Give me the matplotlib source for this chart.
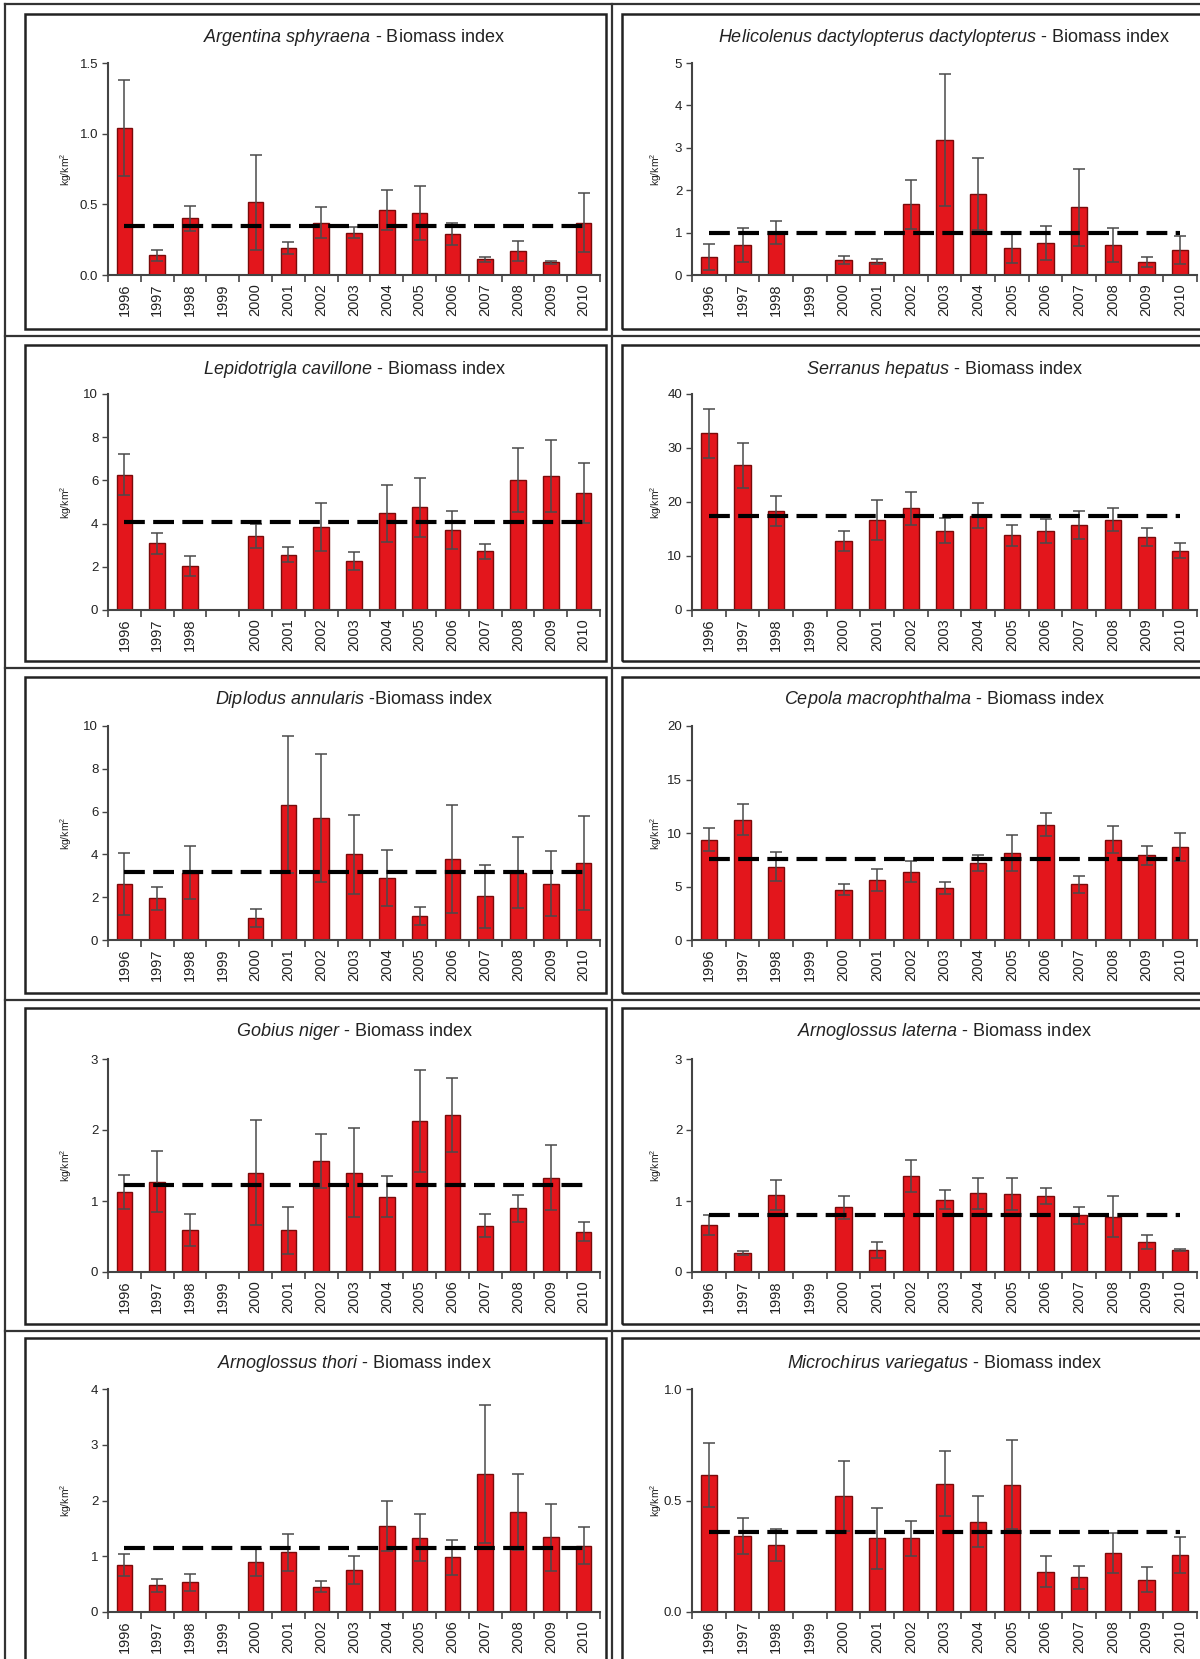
import numpy as np
import matplotlib
matplotlib.use('Agg')
from matplotlib import pyplot as plt
from matplotlib.lines import Line2D
from matplotlib.patches import Rectangle

plt.rcParams['font.family'] = 'Liberation Sans'
plt.rcParams['mathtext.fontset'] = 'custom'
plt.rcParams['mathtext.rm'] = 'Liberation Sans'
plt.rcParams['mathtext.it'] = 'Liberation Sans:italic'

years = ['1996', '1997', '1998', '1999', '2000', '2001', '2002', '2003',
         '2004', '2005', '2006', '2007', '2008', '2009', '2010']
nan = np.nan

# species names (italic part of the titles)
species = ['Argentina sphyraena', 'Helicolenus dactylopterus dactylopterus',
           'Lepidotrigla cavillone', 'Serranus hepatus',
           'Diplodus annularis', 'Cepola macrophthalma',
           'Gobius niger', 'Arnoglossus laterna',
           'Arnoglossus thori', 'Microchirus variegatus']

argentina = [1.04, 0.14, 0.40, nan, 0.515, 0.19, 0.37, 0.30, 0.46, 0.44, 0.29, 0.11, 0.17, 0.09, 0.37]
argentinaErr = [0.34, 0.04, 0.09, nan, 0.335, 0.04, 0.11, 0.04, 0.14, 0.19, 0.08, 0.02, 0.07, 0.01, 0.21]

helicolenus = [0.43, 0.70, 1.00, nan, 0.36, 0.31, 1.67, 3.18, 1.92, 0.64, 0.75, 1.60, 0.70, 0.31, 0.60]
helicolenusErr = [0.31, 0.40, 0.27, nan, 0.09, 0.06, 0.58, 1.56, 0.85, 0.35, 0.40, 0.91, 0.40, 0.12, 0.33]

lepidotrigla = [6.27, 3.09, 2.02, nan, 3.42, 2.56, 3.83, 2.28, 4.48, 4.75, 3.70, 2.72, 6.03, 6.22, 5.42]
lepidotriglaErr = [0.95, 0.48, 0.46, nan, 0.57, 0.34, 1.11, 0.42, 1.31, 1.35, 0.87, 0.34, 1.47, 1.66, 1.37]

serranus = [32.7, 26.8, 18.4, nan, 12.8, 16.6, 18.8, 14.7, 17.5, 13.8, 14.7, 15.7, 16.7, 13.5, 11.0]
serranusErr = [4.6, 4.2, 2.8, nan, 1.9, 3.7, 3.0, 2.3, 2.3, 1.9, 2.2, 2.6, 2.1, 1.6, 1.4]

diplodus = [2.61, 1.96, 3.14, nan, 1.03, 6.33, 5.71, 4.00, 2.88, 1.12, 3.79, 2.04, 3.14, 2.64, 3.60]
diplodusErr = [1.45, 0.54, 1.23, nan, 0.43, 3.21, 3.00, 1.86, 1.31, 0.44, 2.53, 1.46, 1.65, 1.53, 2.20]

cepola = [9.39, 11.24, 6.85, nan, 4.69, 5.63, 6.38, 4.82, 7.20, 8.10, 10.77, 5.20, 9.39, 7.90, 8.67]
cepolaErr = [1.06, 1.44, 1.35, nan, 0.51, 1.01, 0.98, 0.56, 0.78, 1.67, 1.09, 0.80, 1.25, 0.93, 1.31]

gobius = [1.13, 1.27, 0.59, nan, 1.40, 0.59, 1.57, 1.40, 1.06, 2.13, 2.21, 0.65, 0.90, 1.33, 0.57]
gobiusErr = [0.24, 0.43, 0.22, nan, 0.74, 0.33, 0.38, 0.63, 0.29, 0.72, 0.52, 0.16, 0.19, 0.46, 0.13]

laterna = [0.66, 0.27, 1.08, nan, 0.91, 0.31, 1.35, 1.02, 1.11, 1.10, 1.07, 0.80, 0.78, 0.42, 0.31]
laternaErr = [0.14, 0.03, 0.21, nan, 0.16, 0.11, 0.23, 0.13, 0.22, 0.23, 0.11, 0.12, 0.29, 0.10, 0.01]

thori = [0.84, 0.48, 0.53, nan, 0.89, 1.07, 0.45, 0.75, 1.55, 1.33, 0.98, 2.47, 1.79, 1.34, 1.19]
thoriErr = [0.20, 0.12, 0.15, nan, 0.24, 0.33, 0.10, 0.25, 0.45, 0.42, 0.32, 1.24, 0.68, 0.60, 0.33]

microchirus = [0.615, 0.34, 0.30, nan, 0.52, 0.33, 0.33, 0.575, 0.405, 0.57, 0.18, 0.155, 0.265, 0.145, 0.255]
microchirusErr = [0.145, 0.08, 0.07, nan, 0.155, 0.135, 0.08, 0.145, 0.115, 0.20, 0.07, 0.05, 0.09, 0.055, 0.08]

means = [0.35, 0.98, 4.06, 17.5, 3.17, 7.57, 1.22, 0.80, 1.14, 0.36]
yMax = [1.5, 5, 10, 40, 10, 20, 3, 3, 4, 1.0]
yStep = [0.5, 1, 2, 10, 2, 5, 1, 1, 1, 0.5]
yFmt = ['%.1f', '%d', '%d', '%d', '%d', '%d', '%d', '%d', '%d', '%.1f']

values = [argentina, helicolenus, lepidotrigla, serranus, diplodus,
          cepola, gobius, laterna, thori, microchirus]
errors = [argentinaErr, helicolenusErr, lepidotriglaErr, serranusErr, diplodusErr,
          cepolaErr, gobiusErr, laternaErr, thoriErr, microchirusErr]

W, H = 1200, 1659
fig = plt.figure(figsize=(12, 16.59), dpi=100)


def rect(x0, y0, x1, y1):
    # pixel box (top-left origin) -> figure fraction
    return [x0 / W, 1 - y1 / H, (x1 - x0) / W, (y1 - y0) / H]


# table lines and panel boxes
for yy in [4, 336, 668, 1000, 1331]:
    fig.add_artist(Line2D([5 / W, 1], [1 - yy / H] * 2, color='#333333', lw=1.6))
for xx in [5, 612]:
    fig.add_artist(Line2D([xx / W] * 2, [0, 1 - 4 / H], color='#333333', lw=1.6))

boxTop = [14, 345, 677, 1008, 1338]
boxBot = [329, 661, 993, 1324, 1662]
for r in range(5):
    for x0, x1 in [(25, 606), (622, 1215)]:
        b = rect(x0, boxTop[r], x1, boxBot[r])
        fig.add_artist(Rectangle((b[0], b[1]), b[2], b[3], fill=False,
                                 edgecolor='#222222', lw=1.8, transform=fig.transFigure))

axTop = [63, 394, 726, 1059, 1389]
axBot = [275, 610, 940, 1272, 1612]
titleY = [37, 369, 700, 1032, 1364]
colX = [(108, 600), (692, 1197)]
ylabX = [66, 656]

for i in range(10):
    r, c = i // 2, i % 2
    x0, x1 = colX[c]
    ax = fig.add_axes(rect(x0, axTop[r], x1, axBot[r]))
    x = np.arange(len(years))
    v = np.array(values[i])
    e = np.array(errors[i])
    ax.bar(x, v, width=0.48, color='#e3161c', edgecolor='#7a0a0a', linewidth=1.0, zorder=2)
    ax.errorbar(x, v, yerr=e, fmt='none', ecolor='#4a4a4a', elinewidth=1.1,
                capsize=4, capthick=1.1, zorder=3)
    ax.plot([0, len(years) - 1], [means[i], means[i]], color='black', lw=3.0,
            linestyle=(0, (5, 2)), zorder=4)
    ax.set_xlim(-0.5, len(years) - 0.5)
    ax.set_ylim(0, yMax[i])
    ax.set_yticks(np.arange(0, yMax[i] + yStep[i] / 2, yStep[i]))
    ax.set_yticklabels([yFmt[i] % t for t in ax.get_yticks()], fontsize=9.5, color='#222222')
    labels = list(years)
    if i == 2:
        labels[3] = ''
    ax.set_xticks(x)
    ax.set_xticklabels(labels, rotation=90, fontsize=10.5, color='#222222')
    ax.set_xticks(np.arange(-0.5, len(years), 1.0), minor=True)
    ax.tick_params(axis='x', which='major', length=0, pad=6)
    ax.tick_params(axis='x', which='minor', length=5, width=1.2, direction='out', color='#444444')
    ax.tick_params(axis='y', length=4, width=1.0, direction='out', color='#444444', pad=3)
    for s in ['top', 'right']:
        ax.spines[s].set_visible(False)
    for s in ['left', 'bottom']:
        ax.spines[s].set_color('#444444')
        ax.spines[s].set_linewidth(1.5)
    ax.set_facecolor('none')

    name = species[i].replace(' ', r'\ ')
    sep = ' -Biomass index' if i == 4 else ' - Biomass index'
    fig.text((x0 + x1) / 2 / W, 1 - titleY[r] / H, r'$\it{' + name + '}$' + sep,
             ha='center', va='center', fontsize=13, color='#222222')
    fig.text(ylabX[c] / W, 1 - (axTop[r] + axBot[r]) / 2 / H, 'kg/km$^2$',
             rotation=90, ha='center', va='center', fontsize=7.5, color='#222222')

fig.savefig('out.png', dpi=100)
